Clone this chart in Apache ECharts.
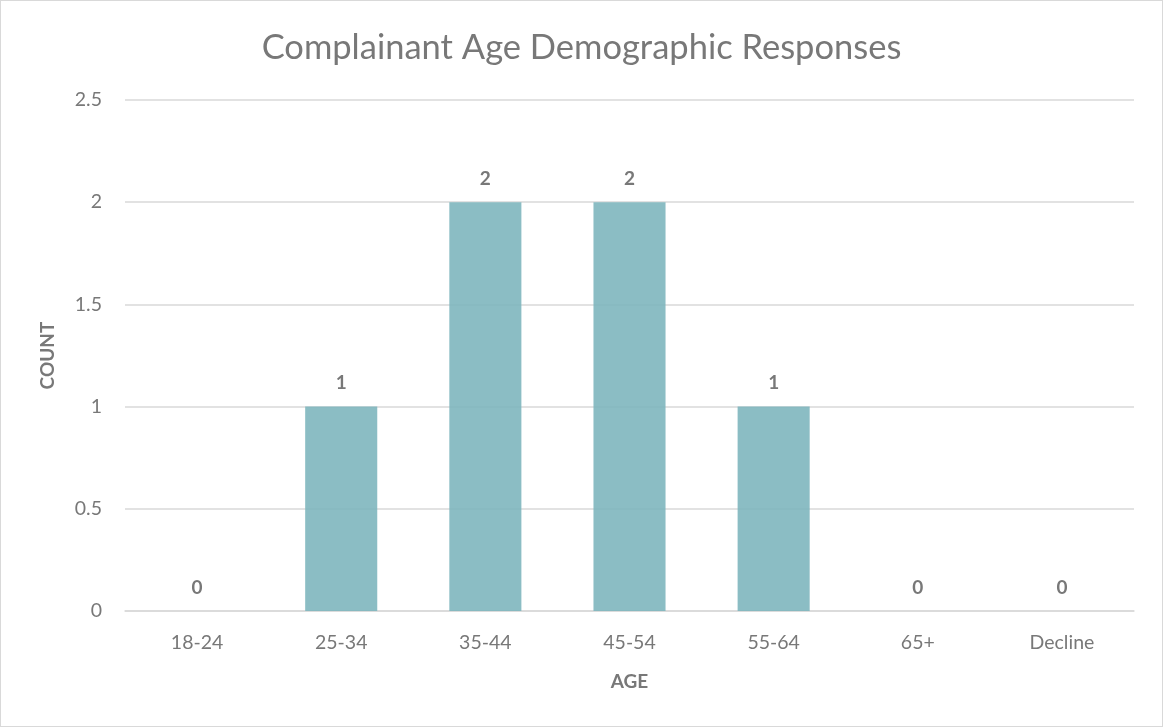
<!DOCTYPE html>
<html>
<head>
<meta charset="utf-8">
<script src="https://cdn.jsdelivr.net/npm/echarts@6/dist/echarts.min.js"></script>
<style>
  html, body { margin: 0; padding: 0; background: #fff; }
  #chart { width: 1163px; height: 727px; box-sizing: border-box; border: 1px solid #d9d9d9; }
</style>
</head>
<body>
<div id="chart"></div>
<script>
// age buckets and how many responses fell in each
const ageGroups = ['18-24', '25-34', '35-44', '45-54', '55-64', '65+', 'Decline'];
const counts = [0, 1, 2, 2, 1, 0, 0];

const textGray = '#787878';
const font = 'Lato, "Open Sans", sans-serif';

const chart = echarts.init(document.getElementById('chart'));
chart.setOption({
    animation: false,
    title: {
        text: 'Complainant Age Demographic Responses',
        left: 'center',
        top: 24,
        textStyle: { fontFamily: font, fontSize: 34.5, fontWeight: 'normal', color: textGray }
    },
    grid: { left: 124, right: 28, top: 99, bottom: 115 },
    xAxis: {
        type: 'category',
        data: ageGroups,
        name: 'AGE',
        nameLocation: 'middle',
        nameGap: 61,
        nameTextStyle: { fontFamily: font, fontSize: 19, fontWeight: 'bold', color: textGray },
        axisLine: { lineStyle: { color: '#d9d9d9', width: 1.5 } },
        axisTick: { show: false },
        axisLabel: { fontFamily: font, fontSize: 19.5, color: textGray, margin: 22 }
    },
    yAxis: {
        type: 'value',
        min: 0,
        max: 2.5,
        interval: 0.5,
        name: 'COUNT',
        nameLocation: 'middle',
        nameGap: 68,
        nameTextStyle: { fontFamily: font, fontSize: 19, fontWeight: 'bold', color: textGray },
        axisLine: { show: false },
        axisTick: { show: false },
        axisLabel: { fontFamily: font, fontSize: 19.5, color: textGray, margin: 23 },
        splitLine: { lineStyle: { color: '#d9d9d9', width: 1.5 } }
    },
    series: [{
        type: 'bar',
        data: counts,
        barWidth: '50%',
        itemStyle: { color: 'rgba(126,182,190,0.9)' },
        label: {
            show: true,
            position: 'top',
            distance: 14,
            fontFamily: font,
            fontSize: 19,
            fontWeight: 'bold',
            color: textGray
        }
    }]
});
</script>
</body>
</html>
